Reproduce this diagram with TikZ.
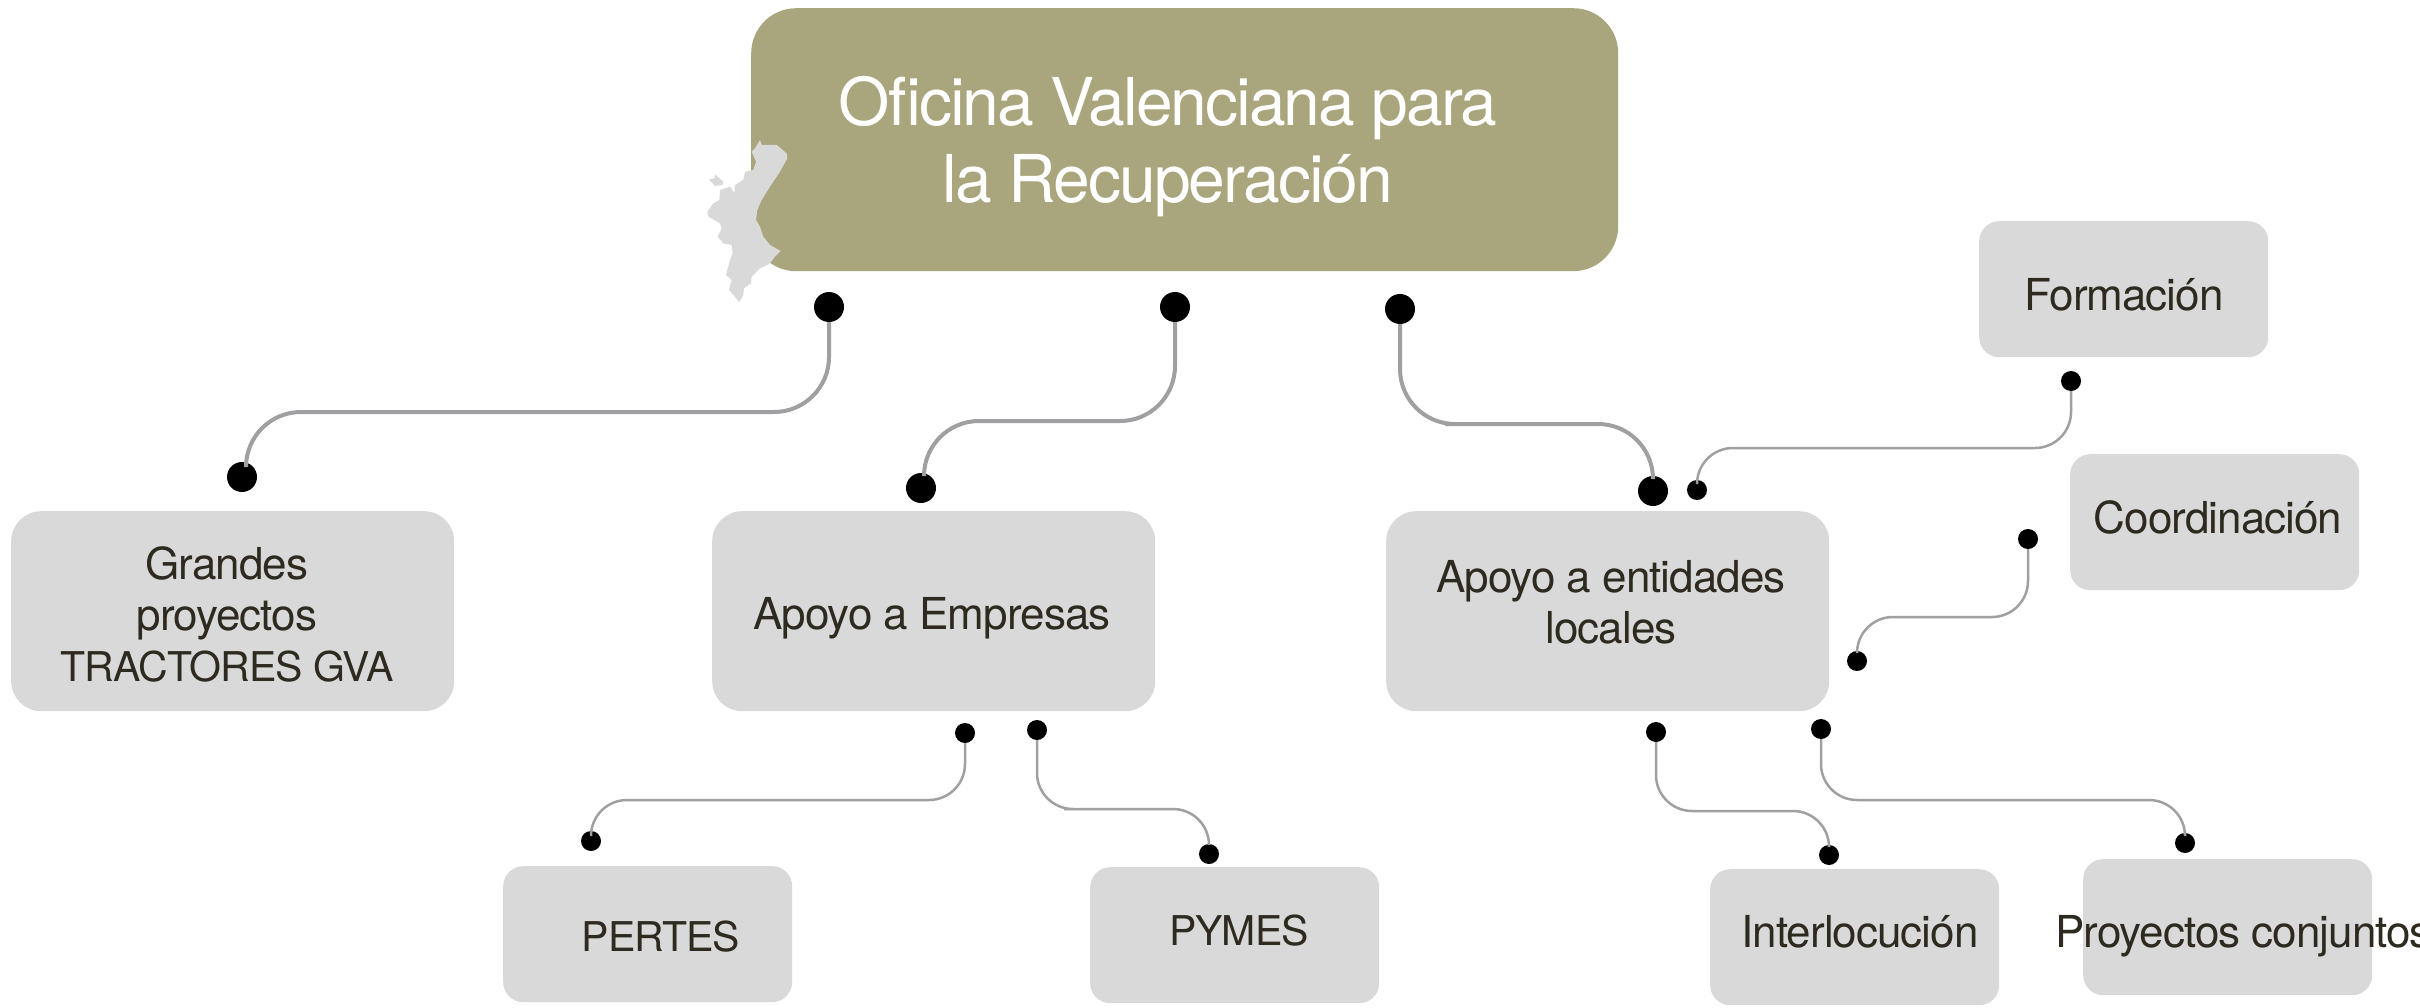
\documentclass[tikz,border=0pt]{standalone}
\usepackage{fontspec}
\setmainfont{TeX Gyre Heros}
\newfontfamily\labelfont[LetterSpace=-2.2]{TeX Gyre Heros}
\newfontfamily\titlefont[LetterSpace=-3]{TeX Gyre Heros}
\definecolor{boxgray}{HTML}{D9D9D9}
\definecolor{olive}{HTML}{A9A57C}
\definecolor{ink}{HTML}{2E2A20}
\definecolor{linegray}{HTML}{A0A0A3}
\tikzset{
  x=1pt,y=-1pt,
  bigbox/.style={draw=none,fill=boxgray,rounded corners=30pt,anchor=north west,inner sep=0pt,minimum width=443pt,minimum height=200pt},
  smallbox/.style={draw=none,fill=boxgray,rounded corners=20pt,anchor=north west,inner sep=0pt,minimum width=289pt,minimum height=136pt},
  mainbox/.style={draw=none,fill=olive,rounded corners=45pt,anchor=north west,inner sep=0pt,minimum width=867pt,minimum height=263pt},
  bigtext/.style={text=ink,inner sep=0pt,align=center,font=\labelfont\fontsize{44}{51}\selectfont},
  capstext/.style={bigtext,font=\labelfont\fontsize{41}{51}\selectfont},
  maintext/.style={text=white,inner sep=0pt,align=center,font=\titlefont\fontsize{66}{77}\selectfont},
  bigdot/.style={circle,fill=black,draw=none,inner sep=0pt,minimum size=30pt},
  smalldot/.style={circle,fill=black,draw=none,inner sep=0pt,minimum size=20pt},
  thickconn/.style={draw=linegray,line width=4pt,rounded corners=55pt},
  thinconn/.style={draw=linegray,line width=2.5pt,rounded corners=36pt},
  region/.style={fill=boxgray,draw=none},
}
\begin{document}
\begin{tikzpicture}
\useasboundingbox (0,0) rectangle (2420,1008);
% boxes
\node[mainbox] (main) at (751,8) {};
\node[bigbox] (grandes) at (11,511) {};
\node[bigbox] (empresas) at (712,511) {};
\node[bigbox] (entidades) at (1386,511) {};
\node[smallbox] (formacion) at (1979,221) {};
\node[smallbox] (coordinacion) at (2070,454) {};
\node[smallbox] (pertes) at (503,866) {};
\node[smallbox] (pymes) at (1090,867) {};
\node[smallbox] (interlocucion) at (1710,869) {};
\node[smallbox] (proyectos) at (2083,859) {};
% region map
\fill[region,shift={(680,120)},x=0.3333pt,y=-0.3333pt]
 (240,60)--(245,75)--(290,75)--(320,100)--(322,115)--(300,155)--(270,200)--(245,240)--(232,270)--(228,300)--(240,320)--(250,350)--(270,375)--(302,393)--(285,410)--(268,432)--(240,445)--(215,470)--(213,490)--(192,505)--(190,525)--(178,546)--(147,510)--(155,480)--(138,465)--(150,420)--(158,400)--(155,375)--(130,370)--(113,350)--(125,325)--(120,310)--(85,290)--(82,275)--(100,250)--(118,240)--(120,210)--(150,200)--(163,218)--(165,195)--(190,180)--(195,155)--(220,150)--(228,125)--(215,95)--(225,85)--cycle
 (87,178)--(103,175)--(105,163)--(130,185)--(128,195)--(105,198)--cycle;
% texts
\node[maintext] (tmain) at (1168,147) {Oficina Valenciana para\\la Recuperación};
\node[bigtext] (tgrandes) at (227,614) {Grandes\\proyectos\\{\fontsize{41}{51}\selectfont TRACTORES GVA}};
\node[bigtext] (tempresas) at (932,618) {Apoyo a Empresas};
\node[bigtext] (tentidades) at (1611,602) {Apoyo a entidades\\locales};
\node[bigtext] (tformacion) at (2124,295) {Formación};
\node[bigtext] (tcoord) at (2218,517) {Coordinación};
\node[capstext] (tpertes) at (661,937) {PERTES};
\node[capstext] (tpymes) at (1239,931) {PYMES};
\node[bigtext] (tinter) at (1860,932) {Interlocución};
\node[bigtext,anchor=base west] (tproy) at (2055,947) {Proyectos conjuntos};
% dots
\node[bigdot] (a1) at (829,307) {};
\node[bigdot] (b1) at (242,477) {};
\node[bigdot] (a2) at (1175,307) {};
\node[bigdot] (b2) at (921,488) {};
\node[bigdot] (a3) at (1400,309) {};
\node[bigdot] (b3) at (1653,491) {};
\node[smalldot] (c1) at (2071,381) {};
\node[smalldot] (d1) at (1697,490) {};
\node[smalldot] (c2) at (2028,539) {};
\node[smalldot] (d2) at (1857,661) {};
\node[smalldot] (c3) at (965,733) {};
\node[smalldot] (d3) at (591,841) {};
\node[smalldot] (c4) at (1037,730) {};
\node[smalldot] (d4) at (1209,854) {};
\node[smalldot] (c5) at (1656,732) {};
\node[smalldot] (d5) at (1829,855) {};
\node[smalldot] (c6) at (1821,729) {};
\node[smalldot] (d6) at (2185,843) {};
% turning levels
\coordinate (m1) at (500,412);
\coordinate (m2) at (1050,421);
\coordinate (m3) at (1500,424);
\coordinate (n1) at (1900,448);
\coordinate (n2) at (1950,617);
\coordinate (n3) at (800,800);
\coordinate (n4) at (1100,809);
\coordinate (n5) at (1750,811);
\coordinate (n6) at (2000,800);
% connectors
\draw[thickconn] (a1) |- (m1) -| ([xshift=4pt]b1.north);
\draw[thickconn] (a2) |- (m2) -| ([xshift=3pt]b2.north);
\draw[thickconn] (a3) |- (m3) -| (b3);
\draw[thinconn] (c1) |- (n1) -| (d1);
\draw[thinconn] (c2) |- (n2) -| (d2);
\draw[thinconn] (c3) |- (n3) -| (d3);
\draw[thinconn] (c4) |- (n4) -| (d4);
\draw[thinconn] (c5) |- (n5) -| (d5);
\draw[thinconn] (c6) |- (n6) -| (d6);
\end{tikzpicture}
\end{document}
